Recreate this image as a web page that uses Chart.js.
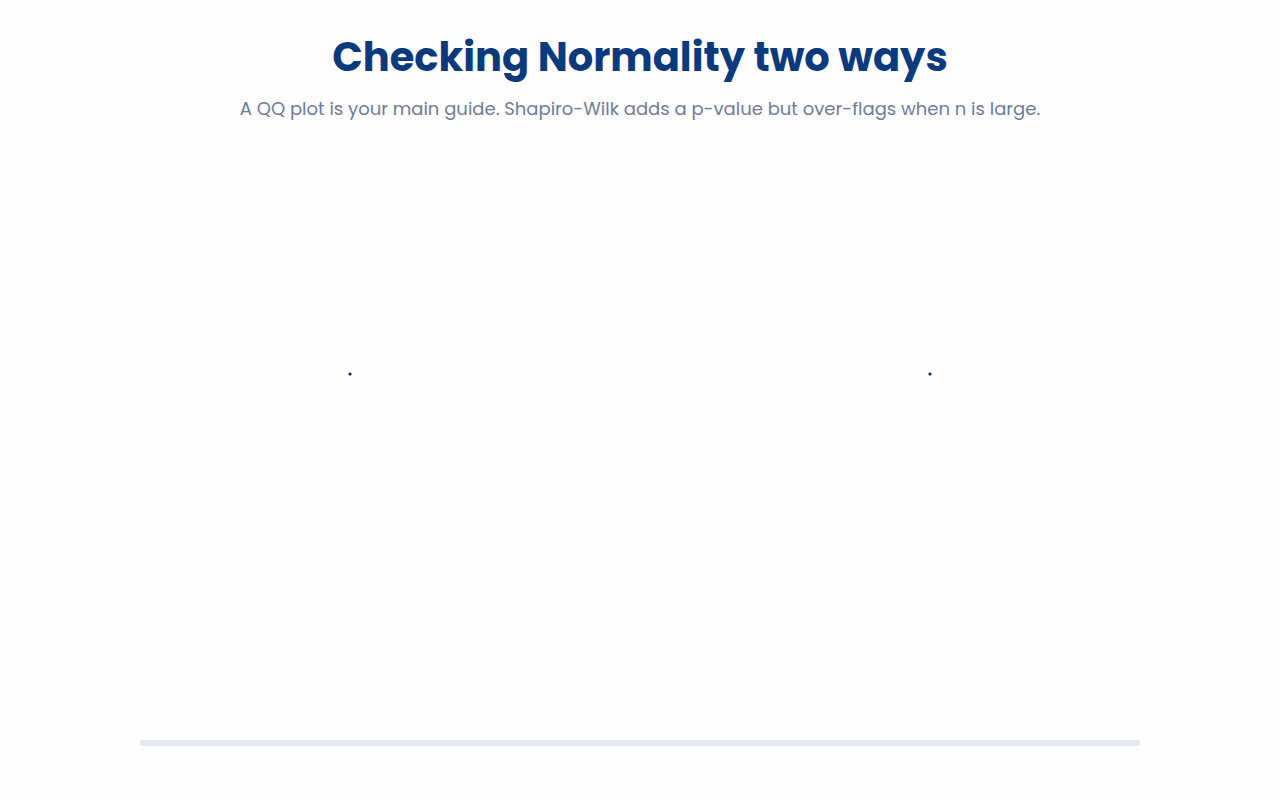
<!DOCTYPE html>
<html>
<head>
<meta charset="utf-8">
<script src="https://cdn.jsdelivr.net/npm/chart.js@4.4.1/dist/chart.umd.min.js"></script>
<style>
    html, body {
        margin: 0;
        padding: 0;
        background: #fdfdfd;
        width: 1280px;
        height: 800px;
        overflow: hidden;
        font-family: Poppins, Inter, "Noto Sans", sans-serif;
    }
    h1 {
        position: absolute;
        top: 27px;
        left: 0;
        width: 1280px;
        margin: 0;
        text-align: center;
        font-size: 40px;
        font-weight: 700;
        color: #0b3a7c;
    }
    .subtitle {
        position: absolute;
        top: 95px;
        left: 0;
        width: 1280px;
        text-align: center;
        font-size: 18px;
        color: #6f7c99;
    }
    .panel {
        position: absolute;
        top: 141px;
    }
    #left-panel { left: 140px; }
    #right-panel { left: 720px; }
    .rule {
        position: absolute;
        left: 140px;
        top: 740px;
        width: 1000px;
        height: 6px;
        border-radius: 3px;
        background: #e4e8f0;
    }
</style>
</head>
<body>
<h1 id="title">Checking Normality two ways</h1>
<div class="subtitle" id="subtitle">A QQ plot is your main guide. Shapiro-Wilk adds a p-value but over-flags when n is large.</div>
<div class="panel" id="left-panel"><canvas id="qq-chart" width="420" height="466"></canvas></div>
<div class="panel" id="right-panel"><canvas id="sw-chart" width="420" height="466"></canvas></div>
<div class="rule"></div>

<script>
// Only a single point is visible in each panel of the reference
const qqTheoretical = [0];
const qqSample = [0];
const swTheoretical = [0];
const swSample = [0];
const axisRange = [-1, 1];

function toPoints(xs, ys) {
    return xs.map(function(x, i) {
        return { x: x, y: ys[i] };
    });
}

function makePanel(id, xs, ys) {
    const ctx = document.getElementById(id).getContext('2d');
    return new Chart(ctx, {
        type: 'scatter',
        data: {
            datasets: [{
                data: toPoints(xs, ys),
                backgroundColor: '#0a2463',
                borderColor: '#0a2463',
                pointRadius: 1.6,
                borderWidth: 0
            }]
        },
        options: {
            responsive: false,
            animation: false,
            layout: { padding: 0 },
            plugins: {
                legend: { display: false },
                tooltip: { enabled: false }
            },
            scales: {
                x: { display: false, min: axisRange[0], max: axisRange[1] },
                y: { display: false, min: axisRange[0], max: axisRange[1] }
            }
        }
    });
}

makePanel('qq-chart', qqTheoretical, qqSample);
makePanel('sw-chart', swTheoretical, swSample);
</script>
</body>
</html>
